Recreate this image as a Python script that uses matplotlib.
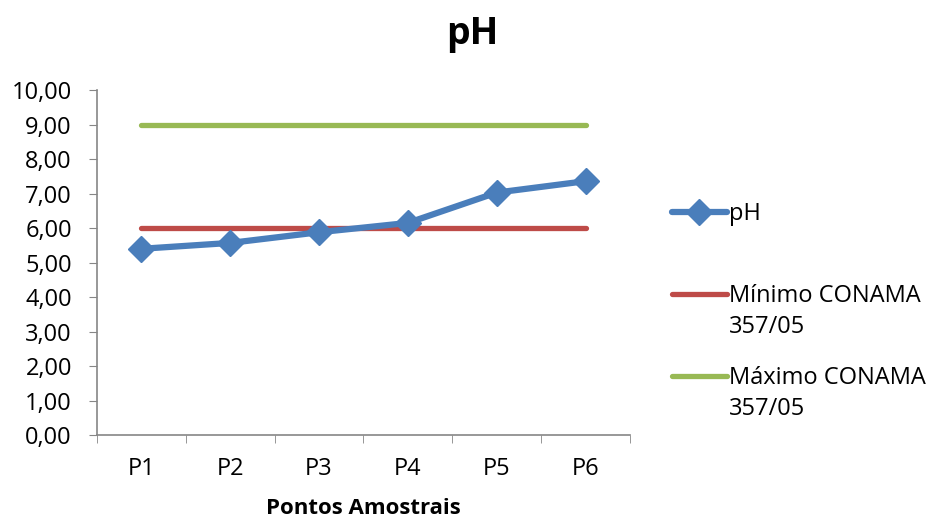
import matplotlib
matplotlib.use('Agg')
import matplotlib.pyplot as plt
from matplotlib.ticker import FuncFormatter

plt.rcParams['font.family'] = ['Open Sans', 'DejaVu Sans']

# data
pontos = ['P1', 'P2', 'P3', 'P4', 'P5', 'P6']
ph = [5.40, 5.57, 5.88, 6.15, 7.03, 7.36]
minimo = [6.0, 6.0, 6.0, 6.0, 6.0, 6.0]
maximo = [9.0, 9.0, 9.0, 9.0, 9.0, 9.0]

blue = '#4A7EBB'
red = '#BE4B48'
green = '#98B954'
gray = '#868686'

fig = plt.figure(figsize=(9.27, 5.21), dpi=100)
ax = fig.add_axes([0.1046, 0.165, 0.575, 0.662])

x = list(range(len(pontos)))
l1, = ax.plot(x, ph, color=blue, lw=4.5, marker='D', ms=13,
              solid_capstyle='round', label='pH', zorder=3)
l2, = ax.plot(x, minimo, color=red, lw=3.8, solid_capstyle='round',
              label='Mínimo CONAMA', zorder=2)
l3, = ax.plot(x, maximo, color=green, lw=3.8, solid_capstyle='round',
              label='Máximo CONAMA', zorder=2)

ax.set_xlim(-0.5, len(pontos) - 0.5)
ax.set_ylim(0, 10)
ax.set_yticks(range(0, 11))
ax.yaxis.set_major_formatter(FuncFormatter(lambda v, p: f'{v:.2f}'.replace('.', ',')))
ax.set_xticks(x)
ax.set_xticklabels(pontos)
ax.set_xticks([i - 0.5 for i in range(len(pontos) + 1)], minor=True)
ax.tick_params(axis='x', which='major', length=0, pad=16, labelsize=17)
ax.tick_params(axis='x', which='minor', length=6, color=gray)
ax.tick_params(axis='y', length=6, color=gray, labelsize=17, pad=12)

for s in ['top', 'right']:
    ax.spines[s].set_visible(False)
for s in ['left', 'bottom']:
    ax.spines[s].set_color(gray)
    ax.spines[s].set_linewidth(1.2)

ax.set_xlabel('Pontos Amostrais', fontsize=16, fontweight='bold', labelpad=12)
fig.text(0.509, 0.935, 'pH', fontsize=27, fontweight='bold', ha='center', va='center')

leg = fig.legend(handles=[l1, l2, l3], loc='upper left',
                 bbox_to_anchor=(0.715, 0.63), frameon=False, fontsize=17,
                 handlelength=2.3, handletextpad=0.1, labelspacing=2.45,
                 borderaxespad=0)

# second line of the two long legend labels
fig.canvas.draw()
for t in leg.get_texts()[1:]:
    bb = t.get_window_extent().transformed(fig.transFigure.inverted())
    fig.text(bb.x0, bb.y0 - 0.014, '357/05', fontsize=17, va='top', ha='left')

fig.savefig('out.png', dpi=100)
